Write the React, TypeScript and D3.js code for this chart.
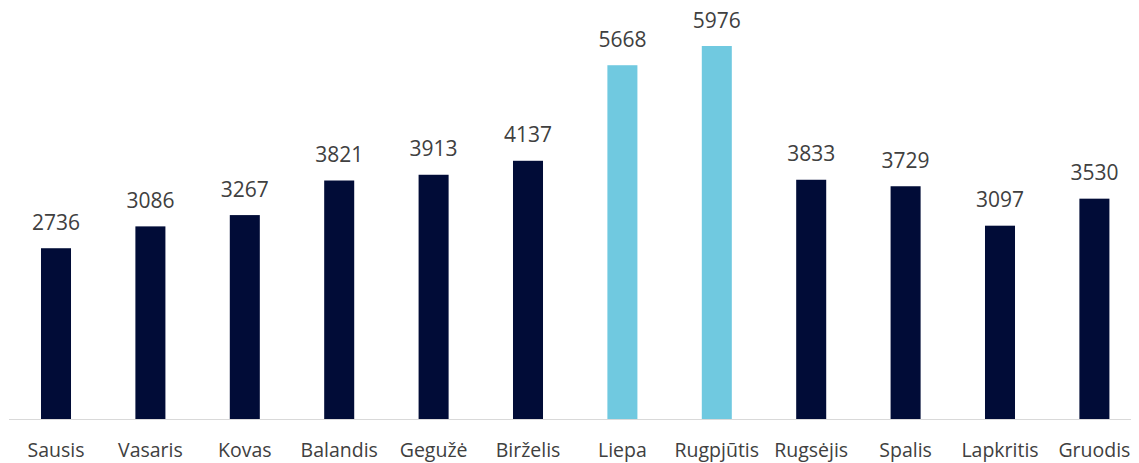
import React from "react";
import * as d3 from "d3";

const months = ["Sausis", "Vasaris", "Kovas", "Balandis", "Gegužė", "Birželis", "Liepa", "Rugpjūtis", "Rugsėjis", "Spalis", "Lapkritis", "Gruodis"];
const values = [2736, 3086, 3267, 3821, 3913, 4137, 5668, 5976, 3833, 3729, 3097, 3530];
const highlighted = ["Liepa", "Rugpjūtis"];

const width = 1131;
const height = 455;

const App: React.FC = () => {
  const baseline = 411;
  const x = d3.scaleBand<string>().domain(months).range([0.8, 1133.6]).paddingInner(0.682).paddingOuter(0.341);
  const y = d3.scaleLinear().domain([0, 5976]).range([baseline, 38]);

  return (
    <svg width={width} height={height} style={{ display: "block", overflow: "visible" }}>
      <line x1={1} x2={width} y1={baseline + 0.5} y2={baseline + 0.5} stroke="#d9d9d9" strokeWidth={1} />
      {months.map((m, i) => (
        <g key={m}>
          <rect
            x={x(m)!}
            y={y(values[i])}
            width={x.bandwidth()}
            height={baseline - y(values[i])}
            fill={highlighted.includes(m) ? "#70c9e0" : "#010c37"}
          />
          <text
            x={x(m)! + x.bandwidth() / 2}
            y={y(values[i]) - 18.5}
            textAnchor="middle"
            fontFamily="'Open Sans', sans-serif"
            fontSize={21}
            fill="#404040"
          >
            {values[i]}
          </text>
          <text
            x={x(m)! + x.bandwidth() / 2}
            y={449}
            textAnchor="middle"
            fontFamily="'Open Sans', sans-serif"
            fontSize={19.5}
            fill="#404040"
          >
            {m}
          </text>
        </g>
      ))}
    </svg>
  );
};

export default App;
